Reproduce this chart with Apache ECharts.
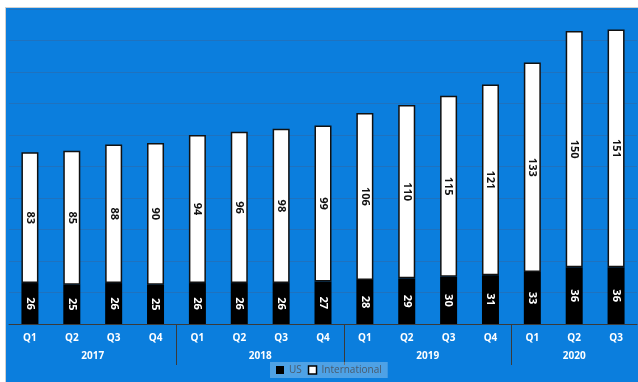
<!DOCTYPE html>
<html>
<head>
<meta charset="utf-8">
<script src="https://cdn.jsdelivr.net/npm/echarts@6/dist/echarts.min.js"></script>
<style>
  html, body { margin: 0; padding: 0; background: #fff; overflow: hidden; width: 638px; height: 382px; }
  #frame { position: absolute; left: 5px; top: 7px; width: 640px; height: 380px; border-left: 1px solid #d0d0d0; border-top: 1px solid #d0d0d0; }
  #chart { position: absolute; left: 0; top: 0; width: 634px; height: 374px; }
</style>
</head>
<body>
<div id="frame"><div id="chart"></div></div>
<script>
// quarters and the year each belongs to
const quarters = ['Q1','Q2','Q3','Q4','Q1','Q2','Q3','Q4','Q1','Q2','Q3','Q4','Q1','Q2','Q3'];
const years = ['2017', '2018', '2019', '2020'];
const quartersPerYear = [4, 4, 4, 3];
const usValues = [26, 25, 26, 25, 26, 26, 26, 27, 28, 29, 30, 31, 33, 36, 36];
const intlValues = [83, 85, 88, 90, 94, 96, 98, 99, 106, 110, 115, 121, 133, 150, 151];

// year axis in half-quarter steps so labels sit in the middle of each year group
const yearSlots = [];
const yearBounds = {};
let pos = 0;
years.forEach((y, i) => {
  const n = quartersPerYear[i];
  for (let k = 0; k < n * 2; k++) yearSlots.push(k === n ? y : '');
  pos += n * 2;
  if (i < years.length - 1) yearBounds[pos] = true;
});
yearSlots.push('');

const chart = echarts.init(document.getElementById('chart'));
const lbl = {
  show: true,
  rotate: -90,
  fontFamily: 'Open Sans',
  fontWeight: 'bold',
  fontSize: 11
};
const option = {
  backgroundColor: '#0B7EDD',
  animation: false,
  legend: {
    bottom: 4,
    left: 264,
    itemWidth: 8,
    itemHeight: 8,
    itemGap: 6,
    padding: [3, 6],
    backgroundColor: 'rgba(255,255,255,0.28)',
    textStyle: { color: '#4a5a6a', fontFamily: 'Open Sans', fontSize: 10 },
    data: [
      { name: 'US', icon: 'rect', itemStyle: { color: '#000' } },
      { name: 'International', icon: 'rect', itemStyle: { color: '#fff', borderColor: '#000', borderWidth: 1.5 } }
    ]
  },
  grid: { left: 0, right: 0, top: 1, bottom: 58 },
  xAxis: [
    {
      type: 'category',
      data: quarters,
      axisLine: { lineStyle: { color: '#3a3a3a', width: 1 } },
      axisTick: { show: false },
      axisLabel: { color: '#fff', fontFamily: 'Open Sans', fontWeight: 'bold', fontSize: 10, margin: 9 }
    },
    {
      type: 'category',
      position: 'bottom',
      boundaryGap: false,
      data: yearSlots,
      axisLine: { show: false },
      axisTick: {
        show: true,
        length: 41,
        interval: (i) => !!yearBounds[i],
        lineStyle: { color: '#3a3a3a', width: 1 }
      },
      axisLabel: { color: '#fff', fontFamily: 'Open Sans', fontWeight: 'bold', fontSize: 10, margin: 27, interval: 0 }
    }
  ],
  yAxis: {
    type: 'value',
    min: 0,
    max: 200,
    interval: 20,
    axisLabel: { show: false },
    axisLine: { show: false },
    axisTick: { show: false },
    splitLine: { lineStyle: { color: '#1F72BE', width: 1 } }
  },
  series: [
    {
      name: 'US',
      type: 'bar',
      stack: 'total',
      barWidth: 17,
      data: usValues,
      itemStyle: { color: '#000' },
      label: Object.assign({ position: 'inside', color: '#fff' }, lbl)
    },
    {
      name: 'International',
      type: 'bar',
      stack: 'total',
      barWidth: 17,
      data: intlValues,
      itemStyle: { color: '#fff', borderColor: '#111', borderWidth: 1.5 },
      label: Object.assign({ position: 'inside', color: '#111' }, lbl)
    }
  ]
};
chart.setOption(option);
</script>
</body>
</html>
